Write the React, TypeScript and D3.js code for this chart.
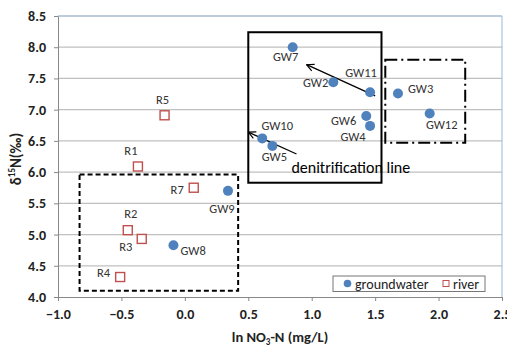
import React, { useEffect, useRef } from "react";
import * as d3 from "d3";

const width = 507;
const height = 346;

// groundwater samples
const gwNames = ["GW2", "GW3", "GW4", "GW5", "GW6", "GW7", "GW8", "GW9", "GW10", "GW11", "GW12"];
const gwLnNO3 = [1.17, 1.68, 1.46, 0.69, 1.43, 0.85, -0.09, 0.34, 0.61, 1.46, 1.93];
const gwD15N = [7.44, 7.26, 6.74, 6.42, 6.9, 8.0, 4.83, 5.7, 6.54, 7.28, 6.94];

// river samples
const rvNames = ["R1", "R2", "R3", "R4", "R5", "R7"];
const rvLnNO3 = [-0.37, -0.45, -0.34, -0.51, -0.16, 0.07];
const rvD15N = [6.09, 5.07, 4.93, 4.32, 6.91, 5.75];

const xTicks = [-1.0, -0.5, 0.0, 0.5, 1.0, 1.5, 2.0, 2.5];
const yTicks = [4.0, 4.5, 5.0, 5.5, 6.0, 6.5, 7.0, 7.5, 8.0, 8.5];

// annotation boxes [x0, x1, y0, y1] in data units
const boxSolid = [0.5, 1.55, 5.83, 8.24];
const boxDashDot = [1.58, 2.21, 6.47, 7.8];
const boxDashed = [-0.83, 0.42, 4.1, 5.96];

// denitrification arrows [xFrom, yFrom, xTo, yTo]
const arrows = [
  [1.5, 7.22, 0.96, 7.72],
  [0.88, 6.29, 0.5, 6.64],
];

// label placement: [dx, dy, anchor]
const labelPos: Record<string, [number, number, string]> = {
  GW2: [-5, 5, "end"],
  GW3: [10, 0, "start"],
  GW4: [-17, 15, "middle"],
  GW5: [2, 15, "middle"],
  GW6: [-10, 9, "end"],
  GW7: [-7, 14, "middle"],
  GW8: [7, 10, "start"],
  GW9: [-6, 22, "middle"],
  GW10: [15, -8, "middle"],
  GW11: [-9, -15, "middle"],
  GW12: [12, 16, "middle"],
  R1: [-7, -11, "middle"],
  R2: [3, -12, "middle"],
  R3: [-16, 12, "middle"],
  R4: [-10, 0, "end"],
  R5: [-2, -11, "middle"],
  R7: [-10, 6, "end"],
};

const font = "Calibri, Carlito, Lato, sans-serif";
const blue = "#4F81BD";
const red = "#C0504D";

export default function App() {
  const ref = useRef<SVGSVGElement>(null);

  useEffect(() => {
    const svg = d3.select(ref.current);
    svg.selectAll("*").remove();

    const x = d3.scaleLinear().domain([-1, 2.5]).range([58, 502]);
    const y = d3.scaleLinear().domain([4, 8.5]).range([297, 16]);

    svg.append("rect").attr("width", width).attr("height", height).attr("fill", "#fff");

    // gridlines
    svg
      .append("g")
      .selectAll("line")
      .data(yTicks.slice(1))
      .join("line")
      .attr("x1", x(-1))
      .attr("x2", x(2.5))
      .attr("y1", (d) => y(d))
      .attr("y2", (d) => y(d))
      .attr("stroke", "#c0c0c0")
      .attr("stroke-width", 1.2);

    // plot border top / right
    svg
      .append("path")
      .attr("d", `M${x(-1)},${y(8.5)}H${x(2.5)}V${y(4)}`)
      .attr("fill", "none")
      .attr("stroke", "#9bb7d9")
      .attr("stroke-width", 1);

    // axes
    const xAxis = d3
      .axisBottom(x)
      .tickValues(xTicks)
      .tickFormat(d3.format(".1f"))
      .tickSizeInner(4)
      .tickSizeOuter(0);
    const gx = svg.append("g").attr("transform", `translate(0,${y(4)})`).call(xAxis);
    gx.select(".domain").attr("stroke", "#888");
    gx.selectAll(".tick line").attr("stroke", "#888");
    gx.selectAll("text")
      .attr("font-family", font)
      .attr("font-weight", "bold")
      .attr("font-size", 14)
      .attr("fill", "#222")
      .attr("dy", "1.05em");

    const yAxis = d3
      .axisLeft(y)
      .tickValues(yTicks)
      .tickFormat(d3.format(".1f"))
      .tickSizeInner(4)
      .tickSizeOuter(0);
    const gy = svg.append("g").attr("transform", `translate(${x(-1)},0)`).call(yAxis);
    gy.select(".domain").attr("stroke", "#888");
    gy.selectAll(".tick line").attr("stroke", "#888");
    gy.selectAll("text")
      .attr("font-family", font)
      .attr("font-weight", "bold")
      .attr("font-size", 14)
      .attr("fill", "#222")
      .attr("x", -12);

    // axis titles
    const yt = svg
      .append("text")
      .attr("transform", `translate(21,159) rotate(-90)`)
      .attr("text-anchor", "middle")
      .attr("font-family", font)
      .attr("font-weight", "bold")
      .attr("font-size", 15)
      .attr("fill", "#222");
    yt.append("tspan").text("δ");
    yt.append("tspan").attr("font-size", 9).attr("dy", -6).text("15");
    yt.append("tspan").attr("dy", 6).text("N(‰)");

    const xt = svg
      .append("text")
      .attr("x", 280)
      .attr("y", 342)
      .attr("text-anchor", "middle")
      .attr("font-family", font)
      .attr("font-weight", "bold")
      .attr("font-size", 14.5)
      .attr("fill", "#222");
    xt.append("tspan").text("ln NO");
    xt.append("tspan").attr("font-size", 9).attr("dy", 3).text("3");
    xt.append("tspan").attr("dy", -3).text("-N (mg/L)");

    // annotation boxes
    const box = (b: number[], dash: string | null) => {
      svg
        .append("rect")
        .attr("x", x(b[0]))
        .attr("y", y(b[3]))
        .attr("width", x(b[1]) - x(b[0]))
        .attr("height", y(b[2]) - y(b[3]))
        .attr("fill", "none")
        .attr("stroke", "#000")
        .attr("stroke-width", 2)
        .attr("stroke-dasharray", dash);
    };
    box(boxSolid, null);
    box(boxDashDot, "12,4,2,4");
    box(boxDashed, "5,3");

    // arrows
    svg
      .append("defs")
      .append("marker")
      .attr("id", "arr")
      .attr("viewBox", "0 0 10 10")
      .attr("refX", 9)
      .attr("refY", 5)
      .attr("markerWidth", 9)
      .attr("markerHeight", 9)
      .attr("markerUnits", "userSpaceOnUse")
      .attr("orient", "auto")
      .append("path")
      .attr("d", "M1,1L9,5L1,9")
      .attr("fill", "none")
      .attr("stroke", "#000")
      .attr("stroke-width", 1.3);

    svg
      .append("g")
      .selectAll("line")
      .data(arrows)
      .join("line")
      .attr("x1", (d) => x(d[0]))
      .attr("y1", (d) => y(d[1]))
      .attr("x2", (d) => x(d[2]))
      .attr("y2", (d) => y(d[3]))
      .attr("stroke", "#000")
      .attr("stroke-width", 1.3)
      .attr("marker-end", "url(#arr)");

    svg
      .append("text")
      .attr("x", x(0.84))
      .attr("y", 173)
      .attr("font-family", font)
      .attr("font-size", 16)
      .attr("fill", "#000")
      .text("denitrification line");

    const gw = gwNames.map((n, i) => ({ n, x: gwLnNO3[i], y: gwD15N[i] }));
    const rv = rvNames.map((n, i) => ({ n, x: rvLnNO3[i], y: rvD15N[i] }));

    svg
      .append("g")
      .selectAll("rect")
      .data(rv)
      .join("rect")
      .attr("x", (d) => x(d.x) - 4.5)
      .attr("y", (d) => y(d.y) - 4.5)
      .attr("width", 9)
      .attr("height", 9)
      .attr("fill", "#fff")
      .attr("stroke", red)
      .attr("stroke-width", 1.4);

    svg
      .append("g")
      .selectAll("circle")
      .data(gw)
      .join("circle")
      .attr("cx", (d) => x(d.x))
      .attr("cy", (d) => y(d.y))
      .attr("r", 5)
      .attr("fill", blue);

    svg
      .append("g")
      .selectAll("text")
      .data([...gw, ...rv])
      .join("text")
      .attr("x", (d) => x(d.x) + labelPos[d.n][0])
      .attr("y", (d) => y(d.y) + labelPos[d.n][1])
      .attr("text-anchor", (d) => labelPos[d.n][2])
      .attr("font-family", font)
      .attr("font-size", 12.5)
      .attr("fill", "#333")
      .text((d) => d.n);

    // legend
    const lg = svg.append("g").attr("transform", "translate(333,276)");
    lg.append("rect")
      .attr("width", 152)
      .attr("height", 15.5)
      .attr("fill", "#fff")
      .attr("stroke", "#777")
      .attr("stroke-width", 1);
    lg.append("circle").attr("cx", 14.5).attr("cy", 7.5).attr("r", 3.8).attr("fill", blue);
    lg.append("text")
      .attr("x", 22)
      .attr("y", 12.5)
      .attr("font-family", font)
      .attr("font-size", 14)
      .attr("fill", "#222")
      .text("groundwater");
    lg.append("rect")
      .attr("x", 110)
      .attr("y", 4.5)
      .attr("width", 6)
      .attr("height", 6)
      .attr("fill", "#fff")
      .attr("stroke", red)
      .attr("stroke-width", 1);
    lg.append("text")
      .attr("x", 120)
      .attr("y", 12.5)
      .attr("font-family", font)
      .attr("font-size", 14)
      .attr("fill", "#222")
      .text("river");
  }, []);

  return (
    <svg
      ref={ref}
      width={width}
      height={height}
      style={{ position: "absolute", left: 0, top: 0 }}
    />
  );
}
